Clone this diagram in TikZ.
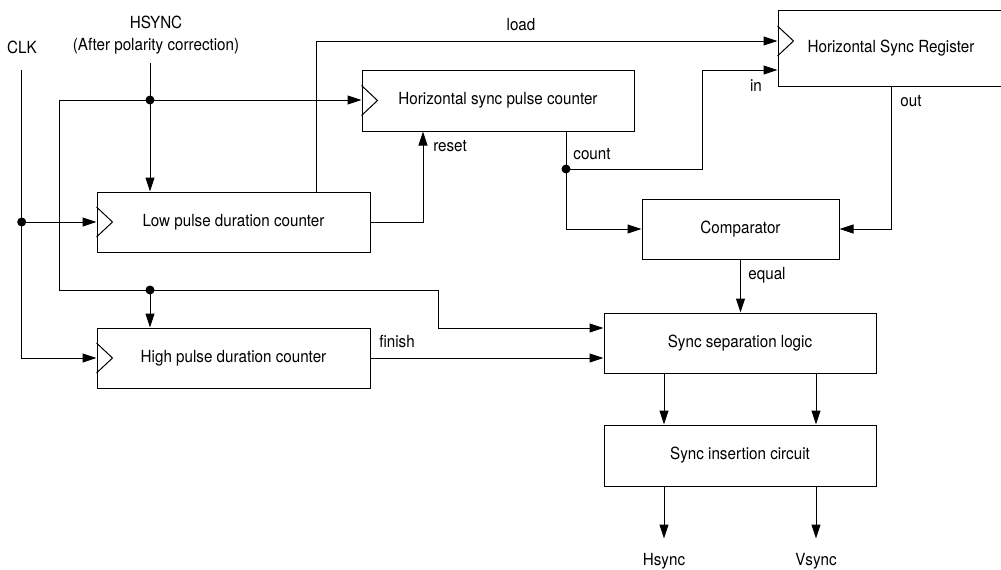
\documentclass[tikz,border=0pt]{standalone}
\usepackage{fontspec}
\setmainfont{TeX Gyre Heros}[FakeStretch=0.91]
\usetikzlibrary{arrows.meta,positioning}

\newcommand{\clkmark}[1]{\draw[wire] (#1) ++(0,-15) -- ++(16,15) -- ++(-16,15);}

\begin{document}
\begin{tikzpicture}[x=1pt,y=-1pt,font=\fontsize{16.7}{22}\selectfont]

\tikzset{block/.style = {draw, line width=1pt, inner sep=0pt, minimum height=60pt},
         wire/.style  = {line width=1pt},
         sig/.style   = {line width=1pt, -{Triangle[length=14pt,width=9pt]}},
         dot/.style   = {circle, fill, inner sep=0pt, minimum size=9pt},
         lbl/.style   = {inner sep=0pt}}

\useasboundingbox (0,0) rectangle (1001,570);

\node[block, minimum width=273pt] (lowcnt) at (233.5,222) {Low pulse duration counter};
\node[block, minimum width=273pt] (highcnt) at (233.5,358) {High pulse duration counter};
\node[block, minimum width=272pt, minimum height=61pt] (pulsecnt) at (498,100.5) {Horizontal sync pulse counter};
\node[block, minimum width=226pt, minimum height=76pt] (hsreg) at (891,48) {Horizontal Sync Register};
\node[block, minimum width=197pt] (comp) at (740.5,229) {Comparator};
\node[block, minimum width=272pt] (seplogic) at (740,343) {Sync separation logic};
\node[block, minimum width=272pt, minimum height=61pt] (insert) at (740,455.5) {Sync insertion circuit};

\clkmark{lowcnt.west}
\clkmark{highcnt.west}
\clkmark{pulsecnt.west}
\coordinate (hsclk) at ([yshift=7pt]hsreg.west);
\coordinate (hsdata) at ([yshift=-22pt]hsreg.west);
\clkmark{hsclk}

\node[lbl, align=center] (hsync) at (156,35) {HSYNC\\(After polarity correction)};
\node[lbl] (clk) at (22,47) {CLK};

\coordinate (hsin) at (150,63);
\coordinate (dtop) at (150,100);
\coordinate (dmid) at (150,290);
\coordinate (clkin) at (21.7,70);
\coordinate (dclk) at (21.7,222);
\coordinate (sepin) at ([yshift=15pt]seplogic.west);
\coordinate (cnt) at ([xshift=68pt]pulsecnt.south);
\coordinate (dcnt) at (566,169);

% hsync
\draw[sig] (hsin) -- (hsin |- lowcnt.north);
\draw[sig] (dtop) -- (dtop -| pulsecnt.west);
\draw[sig] (dtop) -| (59,290) -| (438,328) -- (sepin);
\draw[sig] (dmid) -- (dmid |- highcnt.north);

% clock
\draw[sig] (clkin) |- (highcnt.west);
\draw[sig] (dclk) -- (lowcnt.west);

\draw[sig] (lowcnt.east) -| ([xshift=-75pt]pulsecnt.south);
\node[lbl] (reset) at (450,146) {reset};

\draw[sig] ([xshift=82.5pt]lowcnt.north) |- (hsclk);
\node[lbl] (load) at (521,25) {load};

\draw[sig] (cnt) |- (comp.west);
\draw[sig] (dcnt) -| (702,70) -- (hsdata);
\node[lbl] (count) at (592,154) {count};
\node[lbl] (in) at (756,86) {in};

\draw[sig] (hsreg.south) |- (comp.east);
\node[lbl] (out) at (911,101) {out};

\draw[sig] (comp.south) -- (comp.south |- seplogic.north);
\node[lbl] (equal) at (767,275) {equal};

\draw[sig] (highcnt.east) -- (highcnt.east -| seplogic.west);
\node[lbl] (finish) at (397,342) {finish};

\foreach \dx/\nm/\txt in {-76/hs/Hsync, 76/vs/Vsync} {
  \draw[sig] ([xshift=\dx pt]seplogic.south) -- ([xshift=\dx pt]insert.north);
  \coordinate (\nm end) at ([xshift=\dx pt, yshift=-52pt]insert.south);
  \draw[sig] ([xshift=\dx pt]insert.south) -- (\nm end);
  \node[lbl, below=15pt of \nm end] (\nm out) {\txt};
}

\foreach \p in {dtop,dmid,dclk,dcnt}
  \node[dot] (\p-dot) at (\p) {};

\end{tikzpicture}
\end{document}
